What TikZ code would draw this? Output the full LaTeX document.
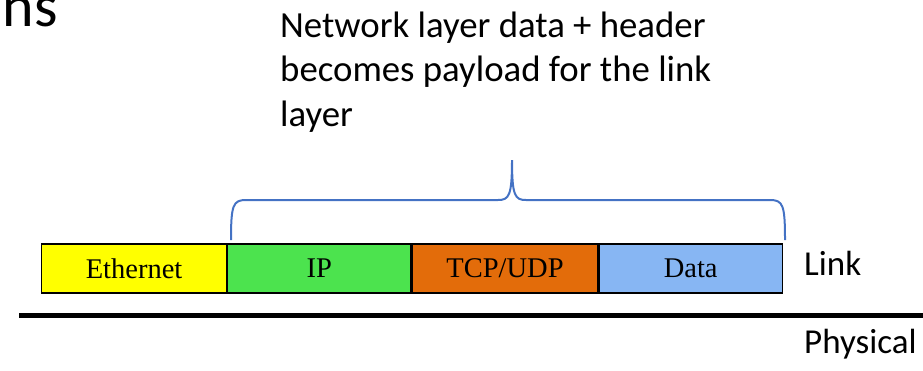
\documentclass[tikz,border=0pt]{standalone}
\usepackage{fontspec}
\setmainfont{Liberation Serif}
\newfontfamily\calib{Carlito}
\definecolor{ethy}{HTML}{FFFF00}
\definecolor{ipg}{HTML}{4CE34E}
\definecolor{tcpo}{HTML}{E36C0A}
\definecolor{datab}{HTML}{87B6F3}
\definecolor{brc}{HTML}{4472C4}
\begin{document}
\begin{tikzpicture}[x=1pt,y=-1pt,
  field/.style={draw=black, line width=1.2pt, minimum height=49pt, inner sep=0pt, anchor=west, font=\fontsize{28.5}{30}\selectfont},
  lbl/.style={font=\calib\fontsize{35}{45}\selectfont, inner sep=0pt},
  note/.style={font=\calib\fontsize{36.8}{44}\selectfont, inner sep=0pt, anchor=base west}]
\useasboundingbox (0,0) rectangle (923,370);
\node[field, fill=ethy, minimum width=185pt] (eth) at (41,268.5) {Ethernet};
\node[field, fill=ipg, minimum width=183pt] (ip) at (eth.east) {IP};
\node[field, fill=tcpo, minimum width=186pt] (tcp) at (ip.east) {TCP/UDP};
\node[field, fill=datab, minimum width=183pt] (data) at (tcp.east) {Data};
\node[lbl, anchor=base west] (link) at (804,275) {Link};
\node[lbl, anchor=base west] (phys) at (804,353) {Physical};
\coordinate (ls) at (19,315);
\coordinate (le) at (923,315);
\draw[line width=5pt] (ls) -- (le);
\node[note] (n1) at (280,37) {Network layer data + header};
\node[note] (n2) at (280,81.5) {becomes payload for the link};
\node[note] (n3) at (280,126) {layer};
\node[font=\calib\fontsize{60}{66}\selectfont, anchor=base east, inner sep=0pt] (title) at (58,26) {ns};
\coordinate (bl) at (231,240);
\coordinate (br) at (785,240);
\coordinate (bt) at (512,160);
\draw[brc, line width=2pt] (bl) .. controls (231,205) and (233,200) .. (246,200) -- (498,200) .. controls (509,200) and (512,196) .. (bt)
  .. controls (512,196) and (515,200) .. (526,200) -- (770,200) .. controls (783,200) and (785,205) .. (br);
\end{tikzpicture}
\end{document}
